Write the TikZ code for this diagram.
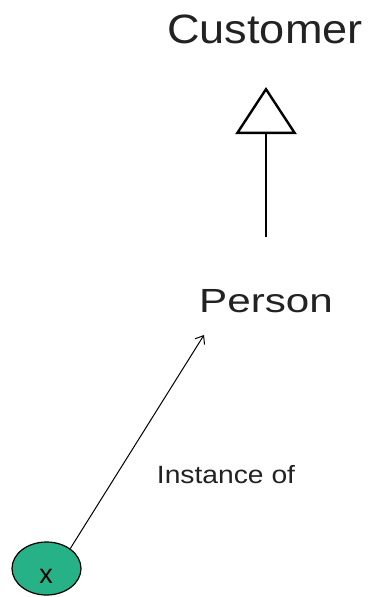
\documentclass[tikz,border=0pt]{standalone}
\usepackage{fontspec}
\setmainfont{Liberation Sans}
\usetikzlibrary{arrows.meta,shapes.geometric}
\definecolor{txt}{RGB}{34,34,34}
\definecolor{teal}{RGB}{38,178,134}
\tikzset{
  lbl/.style={anchor=base, inner sep=0pt, text=txt},
  inst/.style={ellipse, draw=black, line width=1.2pt, fill=teal, minimum width=69pt, minimum height=53pt, inner sep=0pt},
  genline/.style={line width=1.5pt, -{Triangle[open, length=47pt, width=61pt, line width=2.4pt]}},
  instline/.style={line width=1pt, -{Straight Barb[length=7pt, width=11pt, line width=1pt]}}
}
\begin{document}
\begin{tikzpicture}[x=1pt, y=-1pt]
\useasboundingbox (0,0) rectangle (374,597);
\node[lbl] (cust) at (265,43) {\fontsize{41}{41}\selectfont\scalebox{1.1}[1]{Customer}};
\node[lbl] (pers) at (266,312) {\fontsize{33.5}{33.5}\selectfont\scalebox{1.26}[1]{Person}};
\node[lbl] (lab) at (226,483) {\fontsize{25}{25}\selectfont\scalebox{1.13}[1]{Instance of}};
\node[inst] (x) at (46.5,568.5) {};
\node[anchor=base, inner sep=0pt] (xl) at (46,583) {\fontsize{27}{27}\selectfont x};
\coordinate (gs) at (266,237);
\coordinate (ge) at (266,87);
\coordinate (it) at (204,335);
\draw[genline] (gs) -- (ge);
\draw[instline] (x.40) -- (it);
\end{tikzpicture}
\end{document}
